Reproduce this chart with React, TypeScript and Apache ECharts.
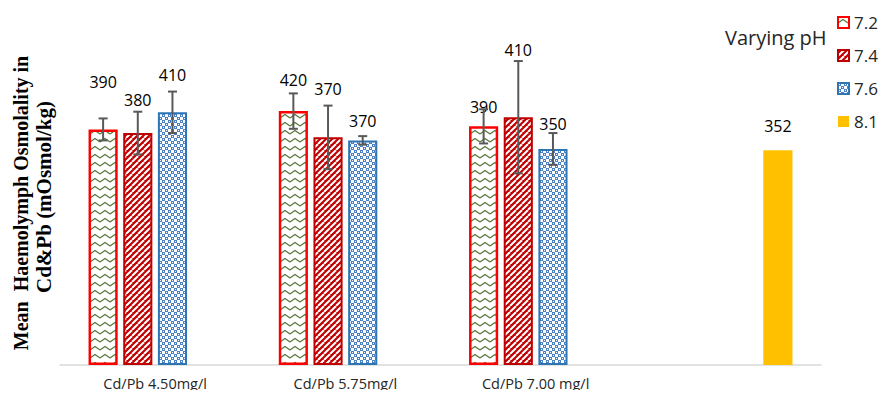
import React, { useEffect, useRef } from "react";
import * as echarts from "echarts";

const categories = ["Cd/Pb 4.50mg/l", "Cd/Pb 5.75mg/l", "Cd/Pb 7.00 mg/l", ""];
const seriesNames = ["7.2", "7.4", "7.6", "8.1"];

const ph72 = [386, 416, 391, null];
const ph74 = [380, 373, 406, null];
const ph76 = [414, 368, 354, null];
const ph81 = [null, null, null, 352];

const label72 = ["390", "420", "390", ""];
const label74 = ["380", "370", "410", ""];
const label76 = ["410", "370", "350", ""];
const label81 = ["", "", "", "352"];

const err72 = [18, 29, 28, null];
const err74 = [35, 52, 92, null];
const err76 = [34, 7, 26, null];

// label lift above the bar top (px) – manual placement as in the original
const lift72 = [47, 31, 19, 0];
const lift74 = [33, 48, 67, 0];
const lift76 = [37, 19, 25, 0];
const lift81 = [0, 0, 0, 24];

const CAT_GAP = 0.3;
const BAR_GAP = 0.19;
const SLOTS = 4;

function makeTile(w: number, h: number, draw: (c: CanvasRenderingContext2D) => void) {
  const cv = document.createElement("canvas");
  cv.width = w;
  cv.height = h;
  const ctx = cv.getContext("2d")!;
  draw(ctx);
  return { image: cv.toDataURL(), repeat: "repeat", imageWidth: w, imageHeight: h } as any;
}

export default function App() {
  const ref = useRef<HTMLDivElement>(null);
  useEffect(() => {
    if (!ref.current) return;
    const chart = echarts.init(ref.current, null, { renderer: "svg" });

    const zig = makeTile(10, 8, (c) => {
      c.fillStyle = "#ffffff";
      c.fillRect(0, 0, 10, 8);
      c.strokeStyle = "#56763a";
      c.lineWidth = 1.2;
      c.beginPath();
      c.moveTo(0, 6);
      c.lineTo(5, 2.5);
      c.lineTo(10, 6);
      c.stroke();
    });
    const stripes = makeTile(6, 6, (c) => {
      c.fillStyle = "#c00000";
      c.fillRect(0, 0, 6, 6);
      c.strokeStyle = "#ffffff";
      c.lineWidth = 2;
      for (let k = -1; k <= 1; k++) {
        c.beginPath();
        c.moveTo(k * 6, 6);
        c.lineTo(k * 6 + 6, 0);
        c.stroke();
      }
    });
    const checks = makeTile(6, 6, (c) => {
      c.fillStyle = "#ffffff";
      c.fillRect(0, 0, 6, 6);
      c.fillStyle = "#4a80c4";
      c.fillRect(0, 0, 3, 3);
      c.fillRect(3, 3, 3, 3);
      c.fillStyle = "#ffffff";
      c.fillRect(1, 1, 1, 1);
      c.fillRect(4, 4, 1, 1);
    });

    const mkData = (vals: (number | null)[], labels: string[], lifts: number[]) =>
      vals.map((v, i) =>
        v == null
          ? "-"
          : {
              value: v,
              label: {
                show: true,
                formatter: labels[i],
                position: ["50%", -lifts[i]],
                align: "center",
                verticalAlign: "middle",
              },
            }
      );

    const labelStyle = {
      fontFamily: "Open Sans",
      fontSize: 16,
      color: "#000000",
    };

    const errData: number[][] = [];
    [ph72, ph74, ph76].forEach((arr, s) => {
      const errs = [err72, err74, err76][s];
      arr.forEach((v, i) => {
        if (v != null && errs[i] != null) errData.push([i, v, errs[i] as number, s]);
      });
    });

    const barCommon = {
      type: "bar",
      barGap: BAR_GAP * 100 + "%",
      barCategoryGap: CAT_GAP * 100 + "%",
      label: labelStyle,
    };

    chart.setOption({
      animation: false,
      grid: { left: 60, right: 74, top: 11, bottom: 33 },
      legend: {
        orient: "vertical",
        left: 832,
        top: 9,
        itemWidth: 11,
        itemHeight: 11,
        itemGap: 16,
        itemStyle: {},
        icon: "rect",
        data: seriesNames,
        textStyle: {
          fontFamily: "Open Sans",
          fontSize: 17,
          color: "#262626",
        },
      },
      xAxis: {
        type: "category",
        data: categories,
        axisLine: { lineStyle: { color: "#d9d9d9", width: 1.5 } },
        axisTick: { show: false },
        axisLabel: {
          fontFamily: "Open Sans",
          fontSize: 14.5,
          color: "#262626",
          margin: 11,
        },
      },
      yAxis: {
        type: "value",
        min: 0,
        max: 580,
        show: false,
        splitLine: { show: false },
      },
      graphic: [
        {
          type: "text",
          left: 725,
          top: 27,
          style: {
            text: "Varying pH",
            fontFamily: "Open Sans",
            fontSize: 20,
            fill: "#262626",
          },
        },
        {
          type: "text",
          x: 21,
          y: 203,
          rotation: Math.PI / 2,
          style: {
            text: "Mean  Haemolymph Osmolality in",
            fontFamily: "Liberation Serif",
            fontWeight: "bold",
            fontSize: 20,
            fill: "#000000",
            align: "center",
            verticalAlign: "middle",
          },
        },
        {
          type: "text",
          x: 44,
          y: 197,
          rotation: Math.PI / 2,
          style: {
            text: "Cd&Pb (mOsmol/kg)",
            fontFamily: "Liberation Serif",
            fontWeight: "bold",
            fontSize: 21,
            fill: "#000000",
            align: "center",
            verticalAlign: "middle",
          },
        },
      ],
      series: [
        {
          ...barCommon,
          name: "7.2",
          data: mkData(ph72, label72, lift72),
          itemStyle: { color: zig, borderColor: "#ff0000", borderWidth: 2.5 },
        },
        {
          ...barCommon,
          name: "7.4",
          data: mkData(ph74, label74, lift74),
          itemStyle: { color: stripes, borderColor: "#c00000", borderWidth: 2 },
        },
        {
          ...barCommon,
          name: "7.6",
          data: mkData(ph76, label76, lift76),
          itemStyle: { color: checks, borderColor: "#2e75b6", borderWidth: 2 },
        },
        {
          ...barCommon,
          name: "8.1",
          data: mkData(ph81, label81, lift81),
          itemStyle: { color: "#ffc000" },
        },
        {
          type: "custom",
          name: "err",
          z: 10,
          data: errData,
          encode: { x: 0, y: 1 },
          renderItem: (params: any, api: any) => {
            const cat = api.value(0);
            const val = api.value(1);
            const err = api.value(2);
            const slot = api.value(3);
            const c = api.coord([cat, val]);
            const band = api.size([1, 0])[0];
            const inner = band * (1 - CAT_GAP);
            const w = inner / (SLOTS + (SLOTS - 1) * BAR_GAP);
            const x = c[0] - inner / 2 + w / 2 + slot * w * (1 + BAR_GAP);
            const yTop = api.coord([cat, val + err])[1];
            const yBot = api.coord([cat, val - err])[1];
            const cap = 4.5;
            const st = { stroke: "#595959", lineWidth: 2 };
            return {
              type: "group",
              children: [
                { type: "line", shape: { x1: x, y1: yTop, x2: x, y2: yBot }, style: st },
                { type: "line", shape: { x1: x - cap, y1: yTop, x2: x + cap, y2: yTop }, style: st },
                { type: "line", shape: { x1: x - cap, y1: yBot, x2: x + cap, y2: yBot }, style: st },
              ],
            };
          },
        },
      ],
    } as any);
    return () => chart.dispose();
  }, []);
  return <div ref={ref} style={{ width: 895, height: 398, margin: -8 }} />;
}
